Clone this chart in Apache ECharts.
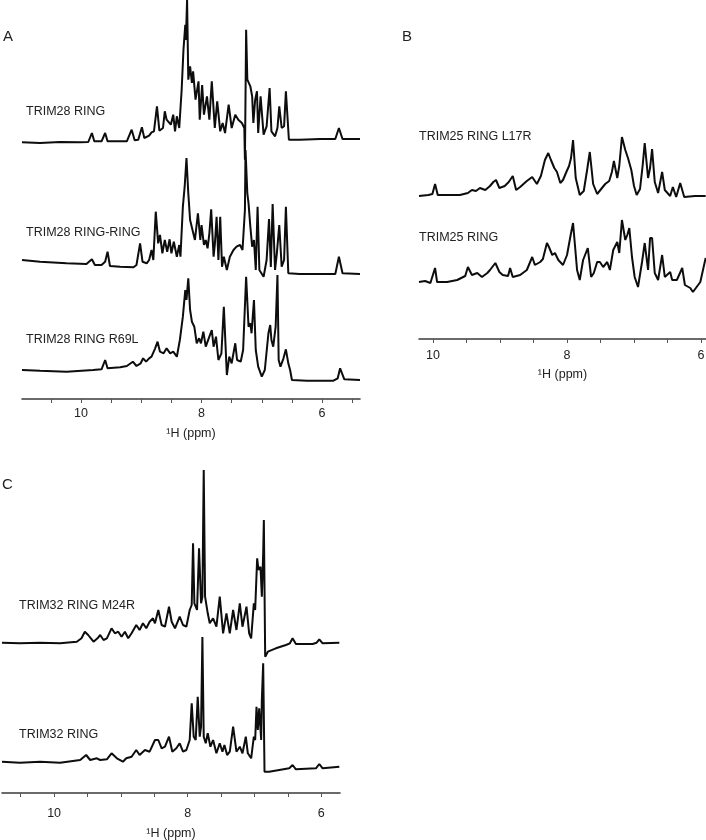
<!DOCTYPE html>
<html><head><meta charset="utf-8">
<script src="https://cdn.jsdelivr.net/npm/echarts@6/dist/echarts.min.js"></script>
<style>html,body{margin:0;padding:0;background:#fff}#c{width:706px;height:840px}</style>
</head><body><div id="c"></div>
<script>
// ---------- text ----------
const axisTitle = '\u00B9H (ppm)';
const panelLetters = ['A', 'B', 'C'];
const namesA = ['TRIM28 RING', 'TRIM28 RING-RING', 'TRIM28 RING R69L'];
const namesB = ['TRIM25 RING L17R', 'TRIM25 RING'];
const namesC = ['TRIM32 RING M24R', 'TRIM32 RING'];

// ---------- ticks (ppm) ----------
const labelTicks = [6, 8, 10];
const tickMarksA = [5.5, 6, 6.5, 7, 7.5, 8, 8.5, 9, 9.5, 10, 10.5];
const tickMarksB = [6, 6.5, 7, 7.5, 8, 8.5, 9, 9.5, 10];
const tickMarksC = [6, 6.5, 7, 7.5, 8, 8.5, 9, 9.5, 10, 10.5];
const rangeA = [5.37, 10.98];
const rangeB = [5.925, 10.21];
const rangeC = [5.72, 10.78];

// ---------- spectra: [ppm, intensity] ----------
const trim28Ring = [[10.98,0.7],[10.68,0],[10.35,1],[10.02,0.7],[9.88,1],[9.82,10],[9.78,1.7],[9.66,1.7],[9.60,10],[9.56,1.7],[9.24,1.7],[9.16,13.3],[9.11,2.7],[9.05,3.3],[8.99,15.7],[8.95,5],[8.87,7.3],[8.83,10.7],[8.79,11.7],[8.74,36.7],[8.70,12.3],[8.64,15],[8.61,31.7],[8.58,23.3],[8.55,25],[8.51,18.3],[8.47,28.3],[8.44,11.7],[8.41,26.7],[8.37,15],[8.33,53.3],[8.30,93.3],[8.27,118.3],[8.26,103],[8.24,143],[8.22,63.3],[8.19,76.7],[8.16,60],[8.14,71.7],[8.10,43.3],[8.05,61.7],[8.03,23.3],[7.99,58],[7.96,28.3],[7.91,46.7],[7.87,23.3],[7.83,61.7],[7.78,15],[7.74,41.7],[7.69,11.7],[7.65,20],[7.61,10],[7.55,38.3],[7.50,15],[7.44,28.3],[7.39,23.3],[7.33,20],[7.29,15],[7.28,-16.7],[7.26,113.3],[7.24,63.3],[7.22,65],[7.19,56.7],[7.16,46.7],[7.14,20],[7.11,43.3],[7.08,51.7],[7.06,10],[7.02,46.7],[6.97,8.3],[6.92,16.7],[6.87,55],[6.84,11.7],[6.78,6.7],[6.74,15],[6.71,36.7],[6.67,15],[6.63,16.7],[6.60,51.7],[6.55,3.3],[6.37,3.3],[6.03,4],[5.78,4],[5.72,15],[5.66,4],[5.37,4]];

const trim28RingRing = [[10.98,14],[10.68,12.3],[10.24,10.7],[9.91,10],[9.82,14.7],[9.77,9],[9.66,9],[9.60,12.3],[9.56,22.3],[9.52,8],[9.35,7.3],[9.13,6.7],[9.08,9],[9.02,30.7],[8.98,12.3],[8.91,10.7],[8.87,14],[8.83,24],[8.80,14],[8.76,62.3],[8.72,30.7],[8.69,39],[8.65,20.7],[8.61,34],[8.57,22.3],[8.53,34.7],[8.50,20.7],[8.46,32.3],[8.41,17.3],[8.37,29],[8.35,17.3],[8.31,67.3],[8.28,87.3],[8.25,116],[8.22,80.7],[8.19,54],[8.15,44],[8.11,34],[8.06,60.7],[8.02,34],[8.00,49],[7.96,29],[7.93,34],[7.90,25.7],[7.87,40.7],[7.84,64.7],[7.80,17.3],[7.78,29],[7.75,57.3],[7.72,14],[7.69,57.3],[7.66,7.3],[7.63,17.3],[7.58,4],[7.53,17.3],[7.47,24],[7.42,27.3],[7.36,29],[7.32,24],[7.28,64],[7.27,124],[7.24,80.7],[7.22,70.7],[7.19,47.3],[7.16,27.3],[7.13,34],[7.10,4],[7.07,67.3],[7.04,4],[6.97,-2.7],[6.92,14],[6.88,55],[6.85,7],[6.82,70],[6.78,4],[6.75,20.7],[6.71,49],[6.67,7.3],[6.63,14],[6.60,67.3],[6.56,0.7],[6.37,0],[6.03,0],[5.78,0],[5.72,17.3],[5.66,0.7],[5.37,0]];

const trim28R69L = [[10.98,11],[10.68,10.3],[10.24,9.3],[9.80,11],[9.66,11.7],[9.60,21],[9.56,12.7],[9.35,13.7],[9.24,15],[9.14,19.3],[9.08,15],[9.01,17.7],[8.97,22.7],[8.92,19.3],[8.87,22.7],[8.83,24.3],[8.77,32.7],[8.73,39.3],[8.69,29.3],[8.63,27.7],[8.58,32.7],[8.52,27.7],[8.47,29.3],[8.41,24.3],[8.36,41],[8.31,64.3],[8.27,91],[8.25,81],[8.22,102.7],[8.19,71],[8.16,59.3],[8.12,54.3],[8.08,37.7],[8.04,42.7],[8.01,37.7],[7.97,49.3],[7.93,34.3],[7.87,44.3],[7.83,51],[7.80,34.3],[7.76,44.3],[7.72,21],[7.67,27.7],[7.63,74.3],[7.58,6],[7.54,24.3],[7.50,17.7],[7.44,37.7],[7.41,21],[7.35,19.3],[7.31,31],[7.26,104.3],[7.22,54.3],[7.19,57.7],[7.17,47.7],[7.13,81],[7.10,31],[7.06,14.3],[7.00,4.3],[6.95,11],[6.89,47.7],[6.86,56],[6.84,41],[6.81,34.3],[6.77,54.3],[6.74,106],[6.72,21],[6.69,14.3],[6.64,22.7],[6.60,31.7],[6.56,17.7],[6.53,11],[6.50,1],[6.25,0.3],[5.81,0.3],[5.74,2.7],[5.70,12.7],[5.63,1.7],[5.37,1]];

const trim25L17R = [[10.21,0],[10.07,1],[10.01,2],[9.97,12],[9.93,1],[9.60,1],[9.48,3],[9.42,6],[9.36,5],[9.30,8],[9.22,6],[9.15,10],[9.10,14],[9.06,16],[9.01,8],[8.93,10],[8.87,14],[8.81,20],[8.76,6],[8.70,9],[8.60,15],[8.52,19],[8.45,12],[8.39,20],[8.33,36],[8.28,43],[8.24,36],[8.19,28],[8.15,24],[8.10,13],[8.06,16],[8.01,24],[7.97,30],[7.94,38],[7.91,56],[7.87,18],[7.81,1],[7.75,5],[7.70,26],[7.66,44],[7.61,12],[7.55,2],[7.49,7],[7.43,12],[7.37,15],[7.33,24],[7.30,35],[7.25,18],[7.22,30],[7.18,59],[7.13,46],[7.09,38],[7.04,26],[7.00,10],[6.96,1],[6.91,7],[6.87,31],[6.84,53],[6.79,18],[6.76,28],[6.73,47],[6.69,14],[6.64,3],[6.58,24],[6.54,6],[6.46,0],[6.42,9],[6.37,-1],[6.31,13],[6.25,-1],[6.09,0],[5.93,0]];

const trim25Ring = [[10.21,10],[10.12,11],[10.04,9],[9.97,24],[9.94,10],[9.79,10],[9.64,12],[9.52,16],[9.48,25],[9.42,17],[9.34,19],[9.27,15],[9.19,19],[9.15,22],[9.07,29],[9.01,20],[8.96,17],[8.88,16],[8.85,24],[8.81,15],[8.70,17],[8.60,22],[8.52,35],[8.48,27],[8.40,30],[8.36,33],[8.30,49],[8.27,45],[8.22,37],[8.18,39],[8.13,32],[8.06,27],[8.00,37],[7.94,59],[7.91,69],[7.85,22],[7.81,12],[7.76,32],[7.69,44],[7.64,15],[7.60,19],[7.55,30],[7.51,30],[7.46,25],[7.40,30],[7.36,22],[7.31,42],[7.25,50],[7.22,39],[7.18,72],[7.13,52],[7.10,57],[7.07,64],[7.03,35],[6.99,15],[6.94,5],[6.88,30],[6.84,49],[6.79,22],[6.76,54],[6.73,54],[6.69,19],[6.64,12],[6.58,37],[6.54,15],[6.46,20],[6.43,12],[6.36,12],[6.28,24],[6.24,7],[6.16,4],[6.12,0],[6.01,10],[5.93,34]];

const trim32M24R = [[10.78,17.3],[10.51,16.7],[10.21,17.3],[9.91,16.7],[9.66,18.3],[9.59,21.7],[9.54,28.3],[9.49,25],[9.41,18.3],[9.35,21.7],[9.31,25],[9.26,20],[9.21,21.7],[9.14,31.7],[9.09,26.7],[9.04,28.3],[8.99,23.3],[8.94,28.3],[8.89,21.7],[8.84,26.7],[8.77,35],[8.72,30],[8.67,36.7],[8.62,31.7],[8.57,38.3],[8.52,41.7],[8.49,36.7],[8.44,50],[8.39,35],[8.34,33.3],[8.28,53.3],[8.24,38.3],[8.19,31.7],[8.12,43.3],[8.07,35],[8.02,33.3],[7.97,50],[7.94,55],[7.92,116.7],[7.90,56.7],[7.86,50],[7.83,111.7],[7.80,56.7],[7.78,63.3],[7.76,190],[7.74,63.3],[7.70,46.7],[7.67,36.7],[7.62,41.7],[7.57,33.3],[7.52,63.3],[7.47,26.7],[7.42,46.7],[7.37,26.7],[7.32,50],[7.27,30],[7.22,56.7],[7.18,33.3],[7.12,53.3],[7.08,26.7],[7.05,21.7],[7.01,56.7],[6.99,50],[6.96,101.7],[6.94,90],[6.91,93.3],[6.89,63.3],[6.87,106.7],[6.86,140],[6.84,3.3],[6.80,8.3],[6.68,11.7],[6.53,15],[6.47,16.7],[6.43,21.7],[6.38,16],[6.13,16],[6.07,17.3],[6.03,20.7],[5.98,16.7],[5.73,17.3]];

const trim32Ring = [[10.78,13.3],[10.51,12.3],[10.21,13.3],[9.91,12.3],[9.61,15],[9.52,20],[9.46,15],[9.36,16.7],[9.31,15],[9.21,15.7],[9.14,21.7],[9.06,16.7],[8.97,13.3],[8.92,16.7],[8.84,18.3],[8.77,25],[8.72,20],[8.64,25],[8.57,23.3],[8.49,35],[8.44,35],[8.39,26.7],[8.34,28.3],[8.28,38.3],[8.23,23.3],[8.17,26.7],[8.12,31.7],[8.07,23.3],[8.02,25],[7.97,35],[7.94,71.7],[7.91,38.3],[7.88,35],[7.85,78.3],[7.82,38.3],[7.80,48.3],[7.78,138],[7.76,38.3],[7.73,31.7],[7.70,41.7],[7.66,28.3],[7.62,35],[7.57,21.7],[7.52,31.7],[7.48,23.3],[7.45,30],[7.41,20],[7.37,23.3],[7.32,48.3],[7.27,23.3],[7.22,28.3],[7.18,21.7],[7.13,38.3],[7.10,21.7],[7.05,16.7],[7.01,38.3],[6.99,35],[6.97,68.3],[6.95,45],[6.93,66.7],[6.90,35],[6.89,75],[6.87,111.7],[6.85,3.3],[6.78,3.3],[6.63,5],[6.48,6.7],[6.43,10],[6.38,5.7],[6.08,6.7],[6.03,11],[5.98,6.7],[5.73,8.3]];

// ---------- layout ----------
const W = 706, H = 840;
const FONT = '"Liberation Sans", Arial, sans-serif';
const TXT = '#222';
const panels = [
  {x0: 22, x1: 360, top: 0, axisY: 399, range: rangeA, ticks: tickMarksA, labelMargin: 8, nameGap: 28,
   traces: [{d: trim28Ring, base: 143}, {d: trim28RingRing, base: 274}, {d: trim28R69L, base: 381}]},
  {x0: 419, x1: 706, top: 0, axisY: 339, range: rangeB, ticks: tickMarksB, labelMargin: 10, nameGap: 29,
   traces: [{d: trim25L17R, base: 196}, {d: trim25Ring, base: 292}]},
  {x0: 2, x1: 340, top: 440, axisY: 793, range: rangeC, ticks: tickMarksC, labelMargin: 14, nameGap: 34,
   traces: [{d: trim32M24R, base: 660}, {d: trim32Ring, base: 775}]}
];

const grid = [], xAxis = [], yAxis = [], series = [];
panels.forEach((p, gi) => {
  grid.push({left: p.x0, width: p.x1 - p.x0, top: p.top, height: p.axisY - p.top,
    containLabel: false, outerBoundsMode: 'none'});
  xAxis.push({
    type: 'value', gridIndex: gi, inverse: true, min: p.range[0], max: p.range[1], position: 'bottom',
    axisLine: {show: true, onZero: false, lineStyle: {color: '#3a3a3a', width: 1.6}},
    axisTick: {show: true, inside: false, length: 4, customValues: p.ticks, lineStyle: {color: '#555', width: 1}},
    axisLabel: {show: true, customValues: labelTicks, margin: p.labelMargin, color: TXT, fontSize: 12.5, fontFamily: FONT,
      hideOverlap: false},
    splitLine: {show: false},
    name: axisTitle, nameLocation: 'middle', nameGap: p.nameGap,
    nameTextStyle: {color: TXT, fontSize: 12.5, fontFamily: FONT}
  });
  p.traces.forEach(t => {
    const yi = yAxis.length;
    yAxis.push({type: 'value', gridIndex: gi, show: false,
      min: -(p.axisY - t.base), max: t.base - p.top,
      splitLine: {show: false}, axisLine: {show: false}, axisTick: {show: false}, axisLabel: {show: false}});
    series.push({type: 'line', xAxisIndex: gi, yAxisIndex: yi, data: t.d, showSymbol: false, symbol: 'none',
      lineStyle: {color: '#0d0d0d', width: 2}, clip: false, silent: true, animation: false});
  });
});

const labelPos = [
  [namesA[0], 26, 112], [namesA[1], 26, 233], [namesA[2], 26, 340],
  [namesB[0], 419, 137], [namesB[1], 419, 238],
  [namesC[0], 19, 606], [namesC[1], 19, 735]
];
const letterPos = [[panelLetters[0], 3, 37], [panelLetters[1], 402, 37], [panelLetters[2], 2, 485]];
const graphic = [];
labelPos.forEach(([t, x, y]) => graphic.push({type: 'text', x: x, y: y, silent: true,
  style: {text: t, fill: TXT, font: '12.5px ' + FONT, verticalAlign: 'middle', align: 'left'}}));
letterPos.forEach(([t, x, y]) => graphic.push({type: 'text', x: x, y: y, silent: true,
  style: {text: t, fill: TXT, font: '15px ' + FONT, verticalAlign: 'middle', align: 'left'}}));

const chart = echarts.init(document.getElementById('c'), null, {renderer: 'canvas', width: W, height: H});
chart.setOption({backgroundColor: '#fff', animation: false, grid, xAxis, yAxis, series, graphic});
</script></body></html>
